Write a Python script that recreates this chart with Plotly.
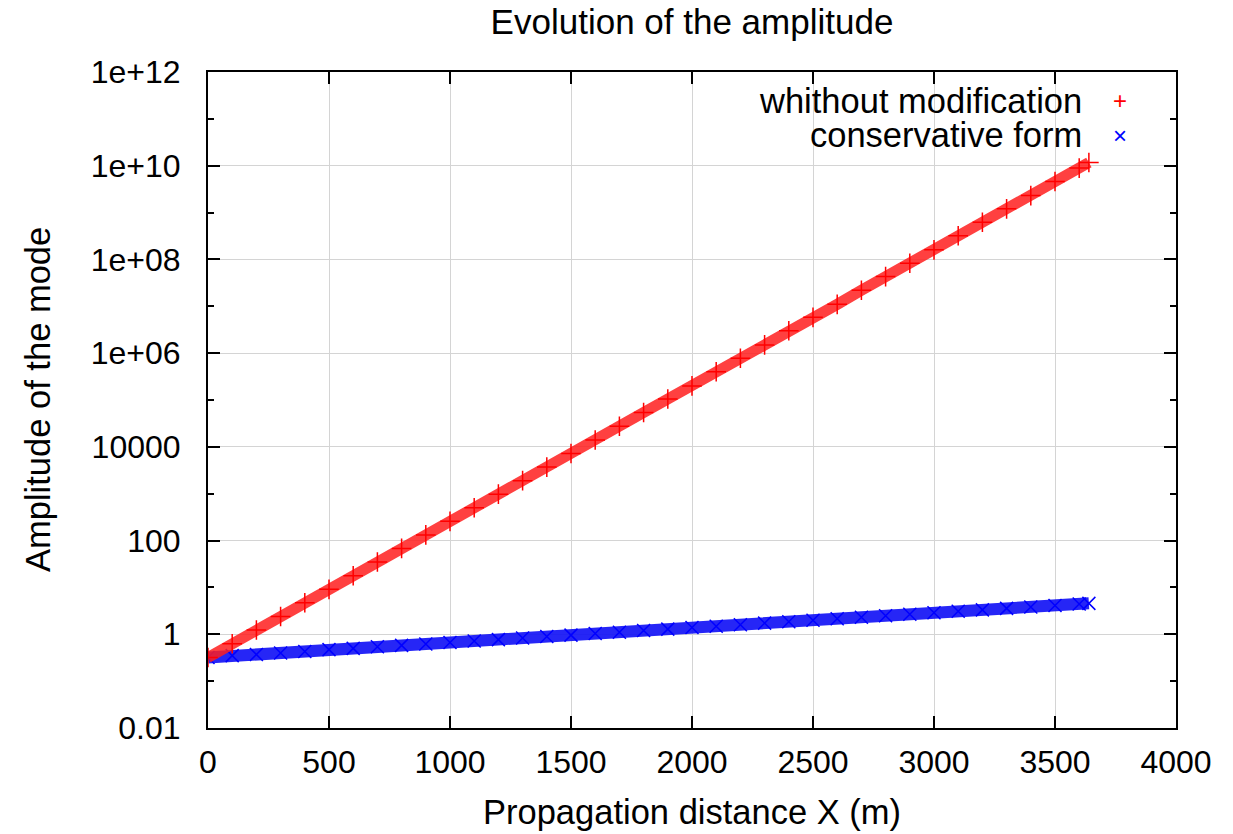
import plotly.graph_objects as go

# Data
distance_m = [0, 100, 200, 300, 400, 500, 600, 700, 800, 900, 1000, 1100, 1200, 1300,
              1400, 1500, 1600, 1700, 1800, 1900, 2000, 2100, 2200, 2300, 2400, 2500,
              2600, 2700, 2800, 2900, 3000, 3100, 3200, 3300, 3400, 3500, 3600, 3640]

amp_without_modification = [0.32, 0.63, 1.23, 2.4, 4.7, 9.1, 17.8, 35, 68, 132, 257, 500,
                            980, 1.9e3, 3.7e3, 7.2e3, 1.4e4, 2.75e4, 5.4e4, 1.05e5, 2.0e5,
                            4.0e5, 7.8e5, 1.5e6, 3.0e6, 5.8e6, 1.1e7, 2.2e7, 4.3e7, 8.3e7,
                            1.6e8, 3.2e8, 6.2e8, 1.2e9, 2.3e9, 4.6e9, 8.9e9, 1.17e10]

amp_conservative = [0.32, 0.35, 0.37, 0.40, 0.43, 0.47, 0.50, 0.54, 0.58, 0.62, 0.67, 0.72,
                    0.77, 0.83, 0.90, 0.96, 1.04, 1.11, 1.20, 1.29, 1.39, 1.49, 1.60, 1.73,
                    1.85, 2.0, 2.15, 2.31, 2.48, 2.67, 2.87, 3.09, 3.32, 3.57, 3.84, 4.13,
                    4.44, 4.57]

series_names = ["whithout modification", "conservative form"]

y_tickvals = [0.01, 1, 100, 1e4, 1e6, 1e8, 1e10, 1e12]
y_ticktext = ["0.01", "1", "100", "10000", "1e+06", "1e+08", "1e+10", "1e+12"]

FONT = "Liberation Sans, Arial, sans-serif"
FS_TICK = 32
FS_TEXT = 34.5

# page body margin offsets the figure by 8px; compensate
OFF = 8
W, H = 1233 - OFF, 834 - OFF
L, T = 208 - OFF, 72 - OFF
R = 1233 - 1176
B = H - (728 - OFF)
PW = W - L - R
PH = H - T - B


def px_x(px):
    return (px - 208) / PW


def px_y(py):
    return (728 - py) / PH


fig = go.Figure()

fig.add_trace(go.Scatter(
    x=distance_m, y=amp_conservative, mode="lines+markers", name=series_names[1],
    line=dict(color="rgba(20,20,245,0.92)", width=12),
    marker=dict(symbol="x-thin", size=13, line=dict(color="rgb(0,0,255)", width=1.5)),
    showlegend=False,
))
fig.add_trace(go.Scatter(
    x=distance_m, y=amp_without_modification, mode="lines+markers", name=series_names[0],
    line=dict(color="rgba(255,30,30,0.85)", width=11),
    marker=dict(symbol="cross-thin", size=14, line=dict(color="rgb(255,0,0)", width=1.5)),
    showlegend=False,
))

axis_common = dict(
    showline=True, linecolor="black", linewidth=2, mirror="ticks",
    ticks="inside", ticklen=12, tickwidth=1.5, tickcolor="black",
    showgrid=True, gridcolor="#d4d4d4", gridwidth=1, zeroline=False,
    tickfont=dict(family=FONT, size=FS_TICK, color="black"),
)

fig.update_layout(
    width=W, height=H,
    margin=dict(l=L, r=R, t=T, b=B),
    paper_bgcolor="white", plot_bgcolor="white",
    font=dict(family=FONT, size=FS_TEXT, color="black"),
    title=dict(text="Evolution of the amplitude", x=0.5, xref="paper",
               y=1 - (22 - OFF) / H, yref="container", yanchor="middle",
               font=dict(family=FONT, size=35, color="black")),
    xaxis=dict(range=[0, 4000], tick0=0, dtick=500, ticklabelstandoff=5, **axis_common),
    yaxis=dict(type="log", range=[-2, 12], tickmode="array", tickvals=y_tickvals,
               ticktext=y_ticktext, ticklabelstandoff=19,
               minor=dict(ticks="inside", ticklen=6, tickwidth=1.5, tickcolor="black",
                          tickmode="linear", tick0=0, dtick=1, showgrid=False),
               **axis_common),
    showlegend=False,
)

# key area masks the grid (as in the reference)
fig.add_shape(type="rect", xref="paper", yref="paper", x0=px_x(640), x1=0.997,
              y0=px_y(150), y1=0.997, fillcolor="white", line=dict(width=0),
              layer="between")

# axis titles
fig.add_annotation(text="Propagation distance X (m)", xref="paper", yref="paper",
                   x=0.5, y=px_y(812), yanchor="middle", showarrow=False,
                   font=dict(family=FONT, size=FS_TEXT, color="black"))
fig.add_annotation(text="Amplitude of the mode", xref="paper", yref="paper",
                   x=px_x(38), y=0.5, xanchor="center", yanchor="middle",
                   textangle=-90, showarrow=False,
                   font=dict(family=FONT, size=FS_TEXT, color="black"))

# key (text right-aligned, symbol on the right, gnuplot style)
key_y = [px_y(101), px_y(135)]
key_sym = ["+", "×"]
key_col = ["red", "blue"]
for i in range(2):
    fig.add_annotation(text=series_names[i], xref="paper", yref="paper",
                       x=px_x(1084), y=key_y[i], xanchor="right", yanchor="middle",
                       showarrow=False, font=dict(family=FONT, size=FS_TEXT, color="black"))
    fig.add_annotation(text=key_sym[i], xref="paper", yref="paper",
                       x=px_x(1120), y=key_y[i], xanchor="center", yanchor="middle",
                       showarrow=False, font=dict(family=FONT, size=24, color=key_col[i]))

fig.write_html("out.html")
